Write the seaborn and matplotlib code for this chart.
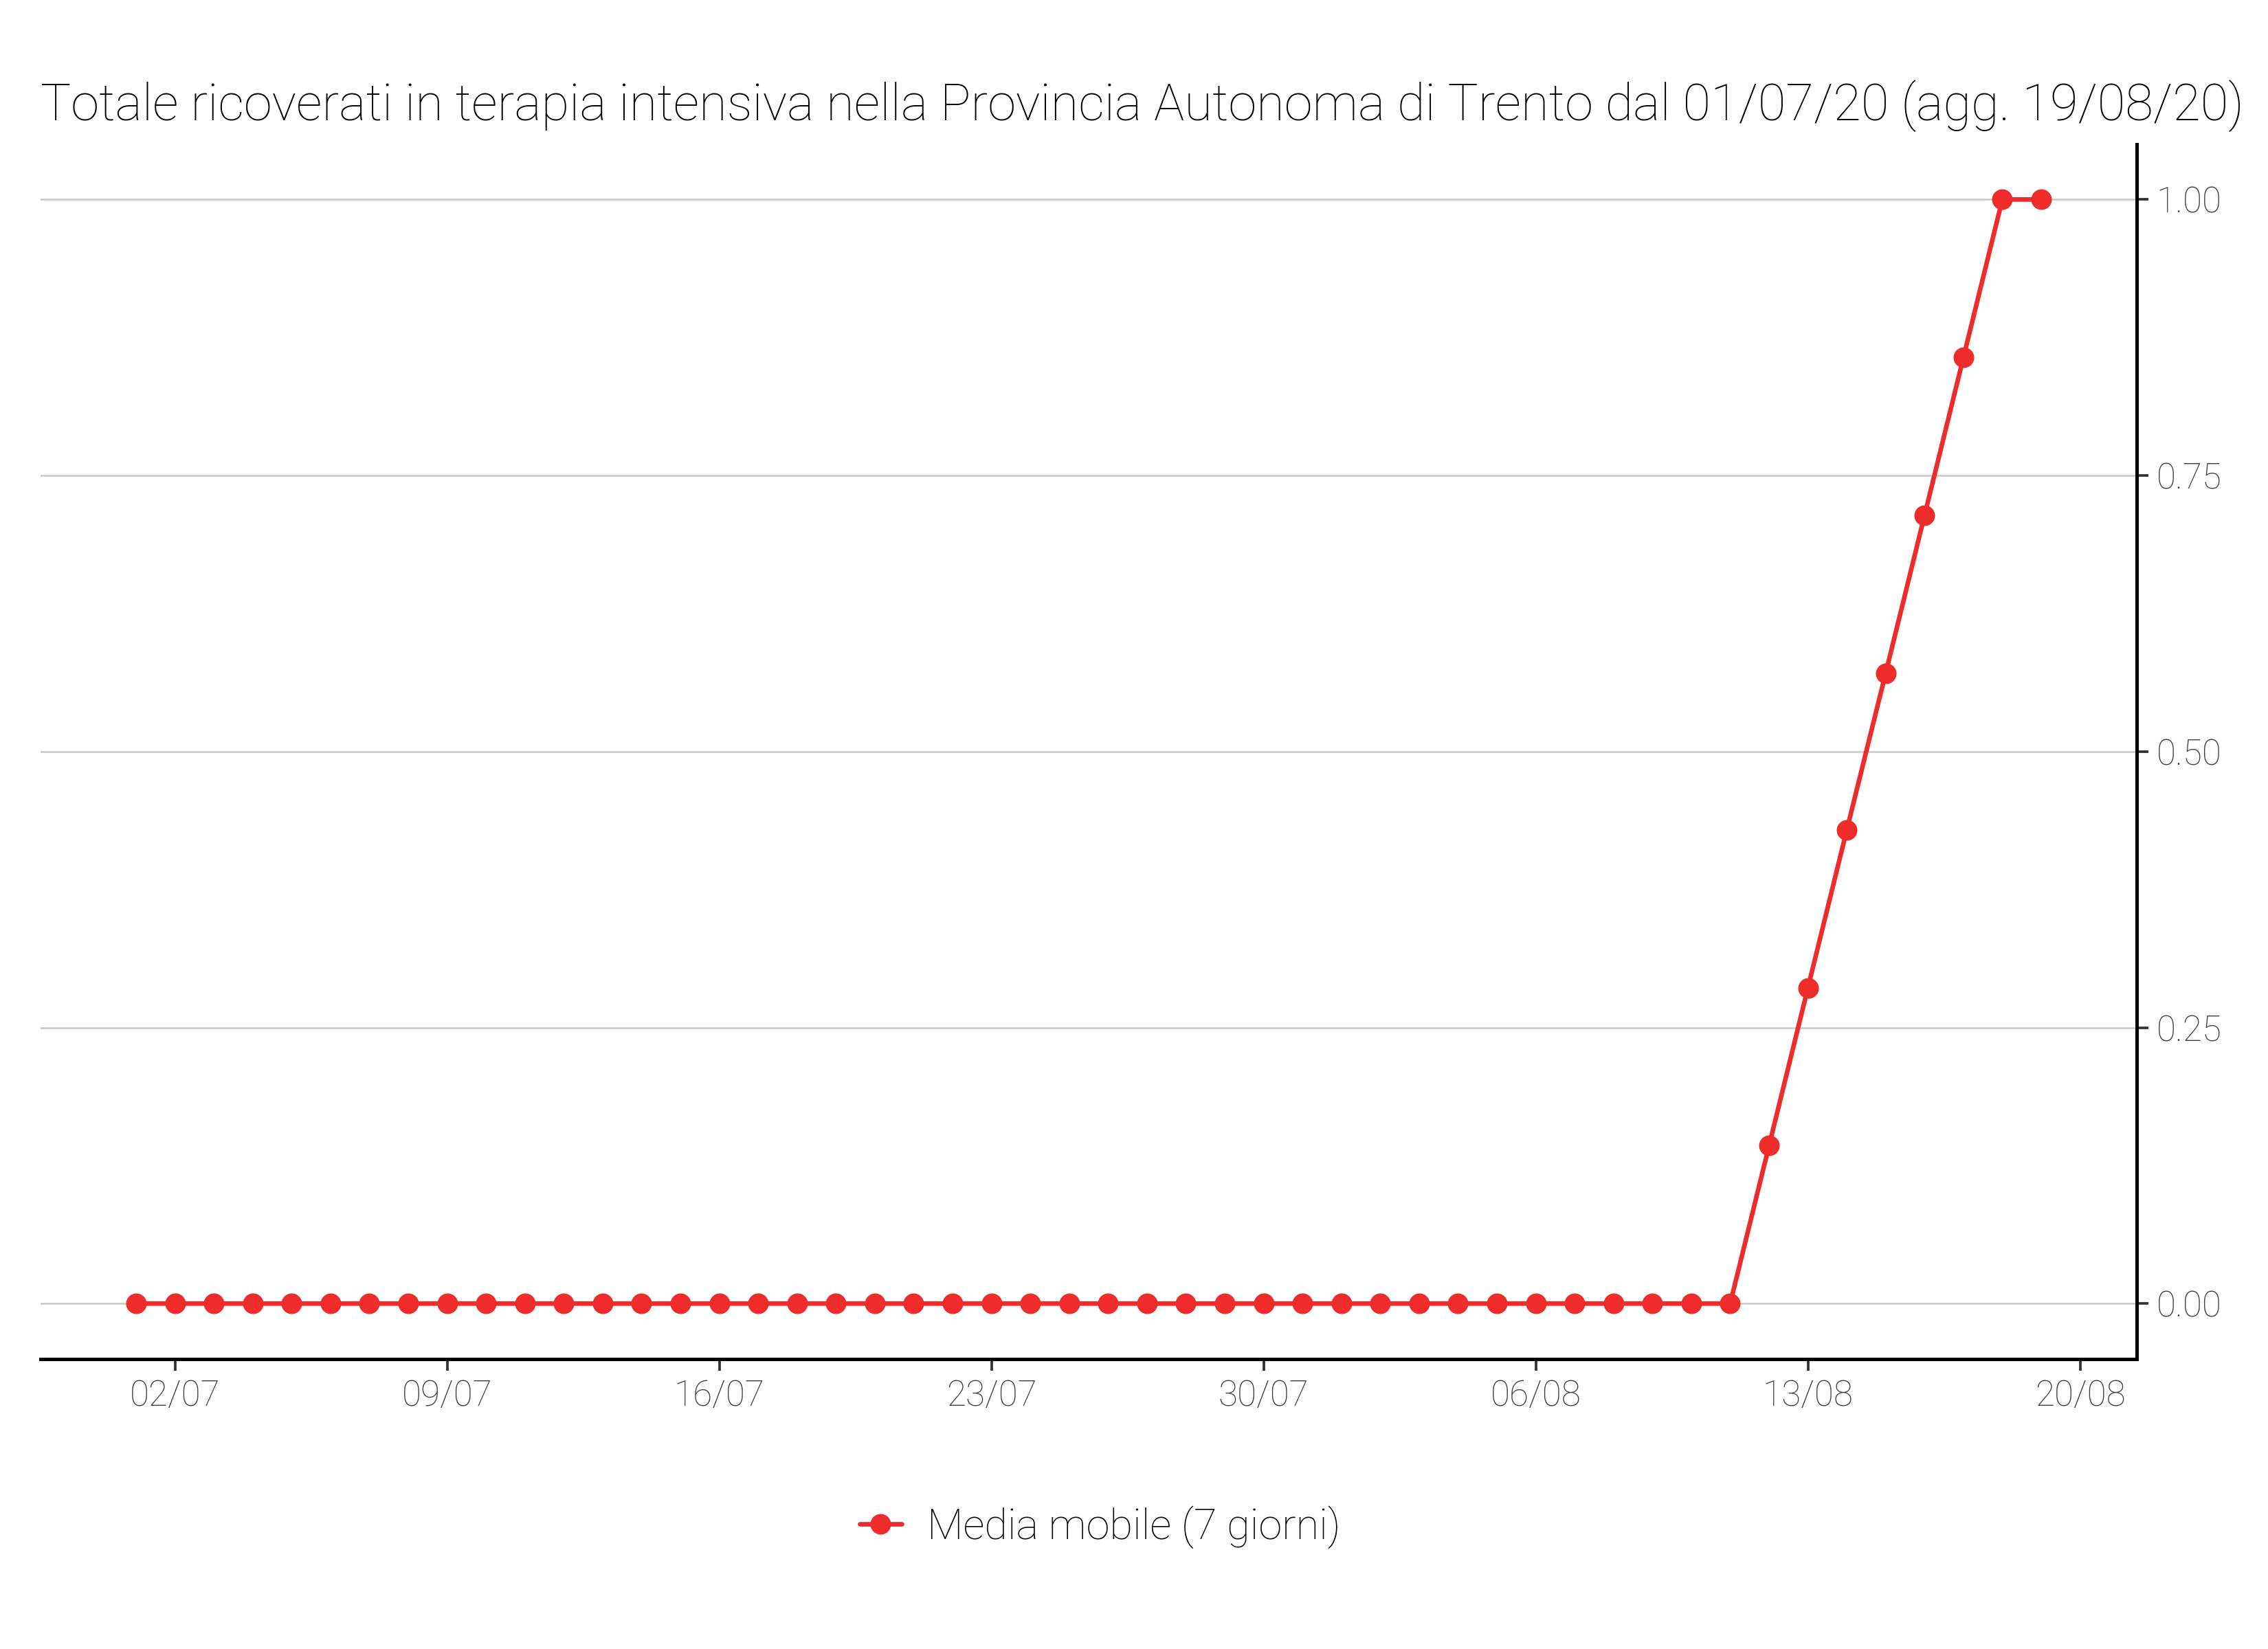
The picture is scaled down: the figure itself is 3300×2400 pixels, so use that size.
import pandas as pd
import seaborn as sns
import matplotlib.pyplot as plt
import matplotlib.dates as mdates
from matplotlib.ticker import FixedLocator, FormatStrFormatter

# dati: media mobile 7 giorni, terapia intensiva PA Trento
dates = pd.date_range("2020-07-01", "2020-08-19", freq="D")
media_mobile = [
    0, 0, 0, 0, 0, 0, 0, 0, 0, 0,
    0, 0, 0, 0, 0, 0, 0, 0, 0, 0,
    0, 0, 0, 0, 0, 0, 0, 0, 0, 0,
    0, 0, 0, 0, 0, 0, 0, 0, 0, 0,
    0, 0,
    0.143, 0.286, 0.429, 0.571, 0.714, 0.857, 1.0, 1.0,
]
serie = "Media mobile (7 giorni)"
titolo = "Totale ricoverati in terapia intensiva nella Provincia Autonoma di Trento dal 01/07/20 (agg. 19/08/20)"
y_ticks = [0.0, 0.25, 0.5, 0.75, 1.0]

df = pd.DataFrame({"data": dates, "valore": media_mobile, "serie": serie})

sns.set_theme(style="white")
plt.rcParams["font.family"] = ["Roboto", "DejaVu Sans"]
plt.rcParams["font.weight"] = "light"
plt.rcParams["text.color"] = "black"

fig = plt.figure(figsize=(11, 8), dpi=300)
ax = fig.add_axes([0.018, 0.176, 0.924, 0.7365])

sns.lineplot(data=df, x="data", y="valore", hue="serie", palette=["#EE2C2C"],
             marker="o", markersize=7.2, markeredgewidth=0, linewidth=1.6, ax=ax)

ax.set_xlim(dates[0] - pd.Timedelta(days=2.45), dates[-1] + pd.Timedelta(days=2.45))
ax.set_ylim(-0.05, 1.05)
ax.xaxis.set_major_locator(mdates.WeekdayLocator(byweekday=mdates.TH))
ax.xaxis.set_major_formatter(mdates.DateFormatter("%d/%m"))
ax.yaxis.set_major_locator(FixedLocator(y_ticks))
ax.yaxis.set_major_formatter(FormatStrFormatter("%.2f"))
ax.yaxis.tick_right()

ax.grid(axis="y", color="#c8c8c8", linewidth=0.6)
ax.grid(axis="x", visible=False)
for s in ["left", "top"]:
    ax.spines[s].set_visible(False)
for s in ["bottom", "right"]:
    ax.spines[s].set_color("black")
    ax.spines[s].set_linewidth(1.2)
ax.tick_params(axis="both", which="major", length=4, width=0.9, color="#333333",
               labelsize=12.3, labelcolor="#3d3d3d", pad=3, bottom=True, right=True)
ax.set_xlabel("")
ax.set_ylabel("")

fig.text(0.018, 1 - 175 / 2400, titolo, fontsize=17.8, color="black",
         ha="left", va="baseline", fontweight="light")

ax.legend_.remove()
h, l = ax.get_legend_handles_labels()
leg = fig.legend(h, l, loc="center", bbox_to_anchor=(0.485, 0.074), frameon=False,
                 fontsize=14.7, handlelength=1.0, handletextpad=0.6)
for t in leg.get_texts():
    t.set_color("black")

fig.savefig("out.png", dpi=300)
